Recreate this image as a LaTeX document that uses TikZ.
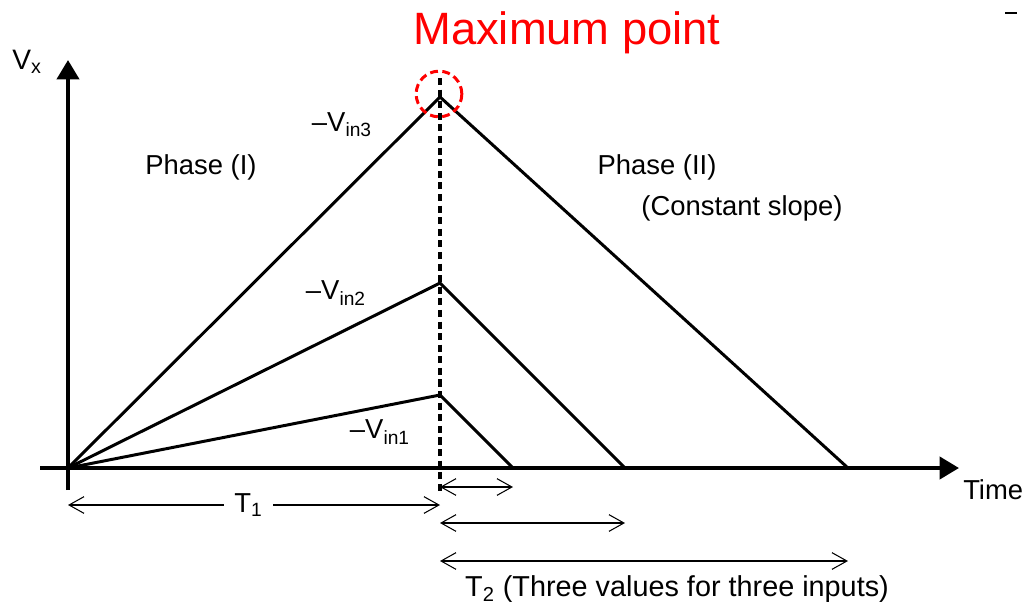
\documentclass[tikz,border=0pt]{standalone}
\usepackage{fontspec}
\setmainfont{Liberation Sans}
\usetikzlibrary{arrows.meta, positioning}
\definecolor{cred}{HTML}{FF0000}
\tikzset{
  every picture/.style={line width=1.7pt},
  axis/.style={-{Triangle[length=11pt, width=12.5pt]}, line width=2.3pt},
  ramp/.style={line width=1.7pt, line join=miter},
  dim/.style={{Straight Barb[length=8.5pt, width=9.5pt]}-{Straight Barb[length=8.5pt, width=9.5pt]}, line width=0.6pt},
  lbl/.style={font=\fontsize{15.6}{18}\selectfont, inner sep=1pt},
}
\begin{document}
\begin{tikzpicture}[x=0.02cm, y=-0.02cm,
    marker/.style={draw=cred, dashed, dash pattern=on 4.5pt off 2.5pt, circle, minimum size=26pt, line width=1.7pt, inner sep=0pt},
    peakline/.style={line width=2pt, dash pattern=on 4pt off 2.6pt},
  ]
  \useasboundingbox (0,0) rectangle (1029,613);

  % axes
  \coordinate (o) at (68,468);
  \coordinate (xs) at (40,468);
  \coordinate (xe) at (959,468);
  \coordinate (ys) at (68,490);
  \coordinate (ye) at (68,60);
  \draw[axis] (xs) -- (xe);
  \draw[axis] (ys) -- (ye);
  \node[lbl, font=\fontsize{16}{18}\selectfont] (vx) at (27,62) {V\textsubscript{x}};
  \node[lbl, anchor=north west] (time) at (960,476) {Time};

  % three ramps
  \coordinate (p3) at (440,97);
  \coordinate (p2) at (440,283);
  \coordinate (p1) at (440,395);
  \coordinate (e3) at (848,468);
  \coordinate (e2) at (625,468);
  \coordinate (e1) at (513,468);
  \draw[ramp] (o) -- (p3) -- (e3);
  \draw[ramp] (o) -- (p2) -- (e2);
  \draw[ramp] (o) -- (p1) -- (e1);
  \node[lbl] (vin3) at (342,125) {\textendash V\textsubscript{in3}};
  \node[lbl] (vin2) at (336,293) {\textendash V\textsubscript{in2}};
  \node[lbl] (vin1) at (380,432) {\textendash V\textsubscript{in1}};

  % maximum point
  \coordinate (dtop) at (440,78);
  \coordinate (dbot) at (440,492);
  \draw[peakline] (dtop) -- (dbot);
  \node[marker] (maxc) at (439,94) {};
  \node[text=cred, font=\fontsize{25.8}{28}\selectfont] (maxt) at (567,33) {Maximum point};

  % phases
  \node[lbl] (ph1) at (201,167) {Phase (I)};
  \node[lbl] (ph2) at (657,167) {Phase (II)};
  \node[lbl] (slope) at (742,208) {(Constant slope)};

  % time spans
  \coordinate (t1a) at (68,505);
  \coordinate (t1b) at (440,505);
  \draw[dim] (t1a) -- node[lbl, fill=white, inner xsep=6pt, pos=0.485] (t1) {T\textsubscript{1}} (t1b);
  \coordinate (a1) at (440,487);
  \coordinate (b1) at (513,487);
  \coordinate (a2) at (440,523);
  \coordinate (b2) at (625,523);
  \coordinate (a3) at (440,561);
  \coordinate (b3) at (848,561);
  \draw[dim] (a1) -- (b1);
  \draw[dim] (a2) -- (b2);
  \draw[dim] (a3) -- (b3);
  \node[lbl, font=\fontsize{16.4}{18}\selectfont] (t2) at (677,589) {T\textsubscript{2} (Three values for three inputs)};

  % stray mark
  \coordinate (m1) at (1005,13);
  \coordinate (m2) at (1017,13);
  \draw[line width=1.2pt] (m1) -- (m2);
\end{tikzpicture}
\end{document}
